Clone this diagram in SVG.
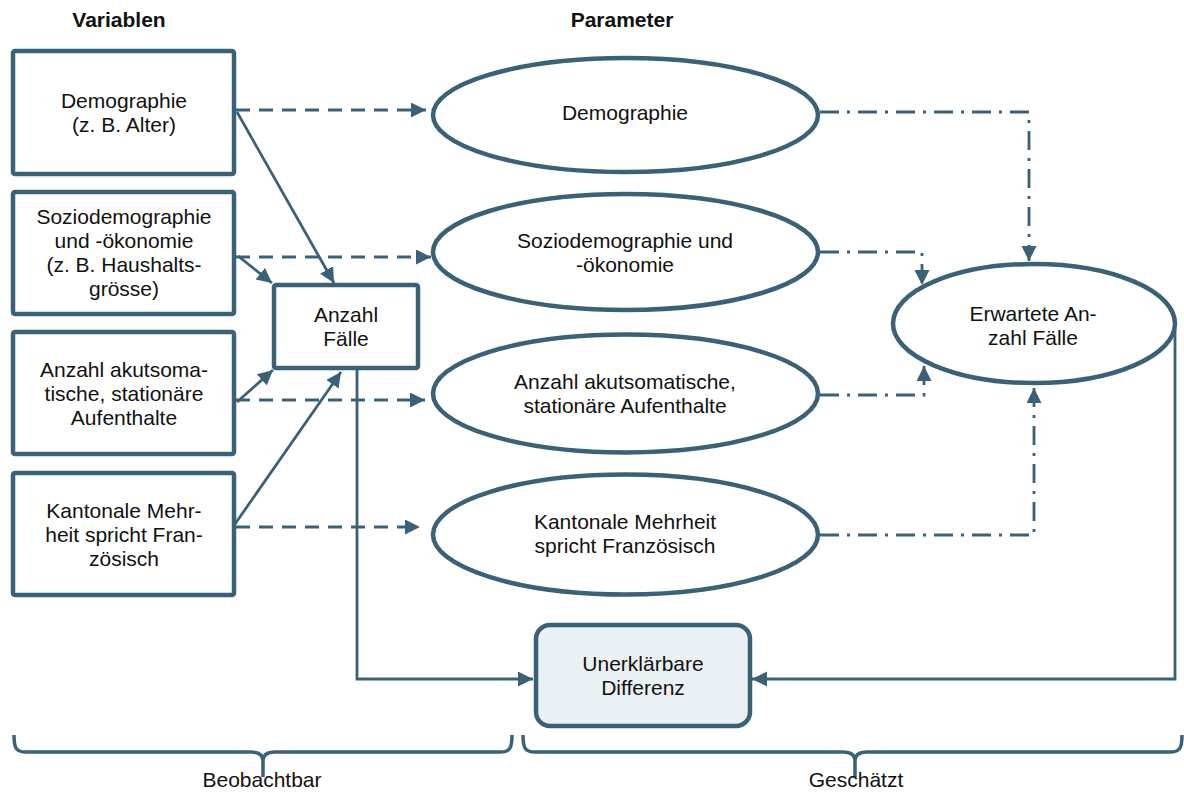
<svg xmlns="http://www.w3.org/2000/svg" width="1184" height="794" viewBox="0 0 1184 794">
<style>
text{font-family:"Liberation Sans",Arial,sans-serif;font-size:21px;fill:#111;text-anchor:middle}
.hdr{font-weight:bold}
.box{fill:#fff;stroke:#3A6176;stroke-width:4.5}
.ell{fill:#fff;stroke:#3A6176;stroke-width:4.5}
.res{fill:#EAF1F4;stroke:#3A6176;stroke-width:4.5}
.c{fill:none;stroke:#3A6176;stroke-width:2.8}
.dash{stroke-dasharray:14 9}
.dd{stroke-dasharray:19 8 3 8}
.brace{fill:none;stroke:#3A6176;stroke-width:3.5}
</style>
<defs>
<marker id="ah" markerUnits="userSpaceOnUse" markerWidth="16" markerHeight="16" refX="15" refY="7.5" orient="auto">
<path d="M0,0 L15,7.5 L0,15 z" fill="#3A6176"/>
</marker>
</defs>

<text class="hdr" x="119" y="27">Variablen</text>
<text class="hdr" x="622" y="27">Parameter</text>

<g id="connectors">
<path class="c dash" d="M236,110 H426" marker-end="url(#ah)"/>
<path class="c dash" d="M236,257 H431" marker-end="url(#ah)"/>
<path class="c dash" d="M236,400 H425" marker-end="url(#ah)"/>
<path class="c dash" d="M236,527 H420" marker-end="url(#ah)"/>
<path class="c" d="M237,112 L334,283" marker-end="url(#ah)"/>
<path class="c" d="M238,256 L272,283" marker-end="url(#ah)"/>
<path class="c" d="M237,402 L273,370" marker-end="url(#ah)"/>
<path class="c" d="M235,524 L341,372" marker-end="url(#ah)"/>
<path class="c" d="M357,370 V679 H533" marker-end="url(#ah)"/>
<path class="c" d="M1175,330 V679 H752" marker-end="url(#ah)"/>
<path class="c dd" d="M820,112 H1029 V261" marker-end="url(#ah)"/>
<path class="c dd" d="M820,252 H922 V285" marker-end="url(#ah)"/>
<path class="c dd" d="M820,395 H924 V366" marker-end="url(#ah)"/>
<path class="c dd" d="M820,535 H1034 V388" marker-end="url(#ah)"/>
</g>

<g id="var-demographie">
<rect class="box" x="13" y="51" width="221" height="123" rx="2"/>
<text x="124" y="108">Demographie</text>
<text x="124" y="132">(z. B. Alter)</text>
</g>
<g id="var-sozio">
<rect class="box" x="13" y="192" width="221" height="122" rx="2"/>
<text x="124" y="224">Soziodemographie</text>
<text x="124" y="248">und -ökonomie</text>
<text x="124" y="272">(z. B. Haushalts-</text>
<text x="124" y="296">grösse)</text>
</g>
<g id="var-anzahl">
<rect class="box" x="13" y="332" width="221" height="122" rx="2"/>
<text x="124" y="377">Anzahl akutsoma-</text>
<text x="124" y="401">tische, stationäre</text>
<text x="124" y="425">Aufenthalte</text>
</g>
<g id="var-kanton">
<rect class="box" x="13" y="473" width="221" height="122" rx="2"/>
<text x="124" y="518">Kantonale Mehr-</text>
<text x="124" y="542">heit spricht Fran-</text>
<text x="124" y="566">zösisch</text>
</g>
<g id="anzahl-faelle">
<rect class="box" x="274" y="285" width="144" height="83" rx="2"/>
<text x="346" y="322">Anzahl</text>
<text x="346" y="346">Fälle</text>
</g>

<g id="par-demographie">
<ellipse class="ell" cx="625.5" cy="115" rx="192.5" ry="57"/>
<text x="625" y="120">Demographie</text>
</g>
<g id="par-sozio">
<ellipse class="ell" cx="625.5" cy="252" rx="192.5" ry="58"/>
<text x="625" y="248">Soziodemographie und</text>
<text x="625" y="272">-ökonomie</text>
</g>
<g id="par-anzahl">
<ellipse class="ell" cx="625.5" cy="393.5" rx="192.5" ry="59"/>
<text x="625" y="389">Anzahl akutsomatische,</text>
<text x="625" y="413">stationäre Aufenthalte</text>
</g>
<g id="par-kanton">
<ellipse class="ell" cx="625.5" cy="534.5" rx="192.5" ry="60"/>
<text x="625" y="529">Kantonale Mehrheit</text>
<text x="625" y="553">spricht Französisch</text>
</g>
<g id="erwartete">
<ellipse class="ell" cx="1034" cy="323.5" rx="141" ry="59.5"/>
<text x="1033" y="321">Erwartete An-</text>
<text x="1033" y="345">zahl Fälle</text>
</g>
<g id="unerklaerbar">
<rect class="res" x="536" y="625" width="214" height="101" rx="14"/>
<text x="643" y="671">Unerklärbare</text>
<text x="643" y="695">Differenz</text>
</g>

<g id="braces">
<path class="brace" d="M14,735 C14,748 16,752 26,752 H251 C259,752 263,755 263,761 V777 M263,761 C263,755 267,752 275,752 H500 C510,752 512,748 512,735"/>
<path class="brace" d="M523,735 C523,748 525,752 535,752 H843 C851,752 855,755 855,761 V777 M855,761 C855,755 859,752 867,752 H1170 C1180,752 1182,748 1182,735"/>
<text x="262" y="787">Beobachtbar</text>
<text x="856" y="787">Geschätzt</text>
</g>
</svg>
